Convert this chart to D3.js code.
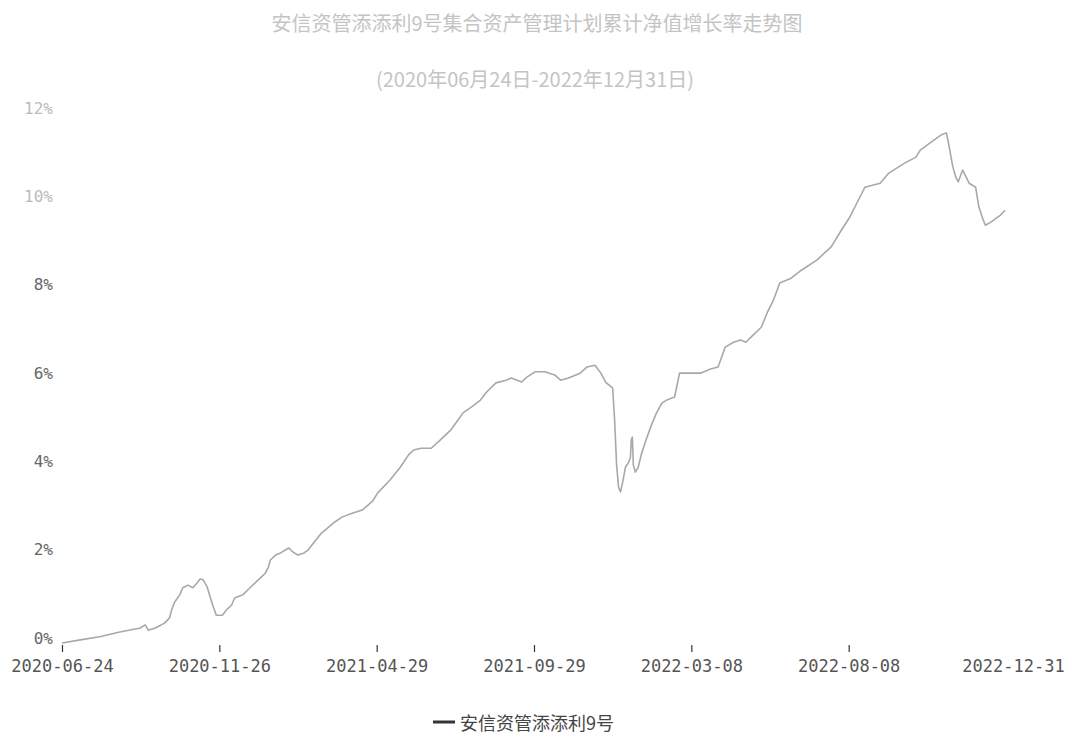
<!DOCTYPE html>
<html>
<head>
<meta charset="utf-8">
<script src="https://cdn.jsdelivr.net/npm/d3@7/dist/d3.min.js"></script>
<style>
  html, body { margin: 0; padding: 0; background: #fff; }
  svg { display: block; }
</style>
</head>
<body>
<div id="chart"></div>
<script>
// ---- data ----
const titleText = "安信资管添添利9号集合资产管理计划累计净值增长率走势图";
const subtitleText = "(2020年06月24日-2022年12月31日)";
const seriesName = "安信资管添添利9号";

const tickDates = ["2020-06-24","2020-11-26","2021-04-29","2021-09-29","2022-03-08","2022-08-08","2022-12-31"];
const yTicks = [0, 2, 4, 6, 8, 10, 12];

const dates = [
 "2020-06-24","2020-07-12","2020-07-31","2020-08-20","2020-09-09","2020-09-14","2020-09-17","2020-09-24",
 "2020-10-03","2020-10-08","2020-10-10","2020-10-13","2020-10-18","2020-10-21","2020-10-26","2020-10-31",
 "2020-11-04","2020-11-07","2020-11-10","2020-11-14","2020-11-17","2020-11-20","2020-11-23","2020-11-29",
 "2020-12-03","2020-12-08","2020-12-11","2020-12-19","2020-12-26","2020-12-31","2021-01-05","2021-01-10",
 "2021-01-13","2021-01-15","2021-01-20","2021-01-25","2021-01-30","2021-02-02","2021-02-06","2021-02-11",
 "2021-02-17","2021-02-21","2021-02-26","2021-03-06","2021-03-19","2021-03-26","2021-04-05","2021-04-15",
 "2021-04-25","2021-04-30","2021-05-12","2021-05-22","2021-05-30","2021-06-04","2021-06-11","2021-06-21",
 "2021-06-30","2021-07-10","2021-07-15","2021-07-22","2021-07-30","2021-08-08","2021-08-13","2021-08-23",
 "2021-09-02","2021-09-07","2021-09-17","2021-09-22","2021-09-30","2021-10-10","2021-10-20","2021-10-26",
 "2021-11-03","2021-11-15","2021-11-22","2021-11-30","2021-12-06","2021-12-11","2021-12-18","2021-12-20",
 "2021-12-22","2021-12-24","2021-12-26","2021-12-28","2021-12-31","2022-01-03","2022-01-05","2022-01-06",
 "2022-01-07","2022-01-08","2022-01-10","2022-01-13","2022-01-16","2022-01-21","2022-01-26","2022-01-31",
 "2022-02-06","2022-02-11","2022-02-19","2022-02-24","2022-03-03","2022-03-17","2022-03-26","2022-04-03",
 "2022-04-10","2022-04-18","2022-04-25","2022-04-30","2022-05-07","2022-05-15","2022-05-21","2022-05-27",
 "2022-06-02","2022-06-13","2022-06-23","2022-07-08","2022-07-22","2022-08-01","2022-08-09","2022-08-17",
 "2022-08-23","2022-09-06","2022-09-14","2022-09-29","2022-10-09","2022-10-13","2022-10-23","2022-11-01",
 "2022-11-06","2022-11-08","2022-11-12","2022-11-15","2022-11-17","2022-11-21","2022-11-27","2022-12-03",
 "2022-12-06","2022-12-10","2022-12-12","2022-12-17","2022-12-26","2022-12-30"
];
const values = [
 0.00,0.07,0.14,0.25,0.34,0.41,0.29,0.34,
 0.45,0.57,0.75,0.93,1.09,1.25,1.31,1.25,
 1.36,1.45,1.43,1.27,1.04,0.82,0.63,0.63,
 0.75,0.86,1.02,1.09,1.25,1.36,1.47,1.58,
 1.72,1.88,1.99,2.04,2.11,2.15,2.06,1.99,
 2.04,2.11,2.26,2.49,2.74,2.85,2.94,3.01,
 3.21,3.40,3.69,3.98,4.26,4.37,4.41,4.41,
 4.60,4.82,4.98,5.21,5.34,5.50,5.66,5.89,
 5.95,6.00,5.91,6.02,6.14,6.14,6.07,5.95,
 6.00,6.11,6.25,6.29,6.11,5.90,5.77,5.05,
 4.03,3.53,3.42,3.62,3.98,4.08,4.19,4.60,
 4.66,4.03,3.87,3.98,4.26,4.60,4.91,5.18,
 5.43,5.50,5.57,6.11,6.11,6.11,6.20,6.25,
 6.70,6.81,6.86,6.81,6.97,7.15,7.49,7.77,
 8.15,8.26,8.44,8.67,8.97,9.35,9.64,10.03,
 10.32,10.41,10.64,10.87,11.00,11.16,11.34,11.50,
 11.55,11.32,10.78,10.53,10.44,10.71,10.41,10.32,
 9.87,9.58,9.46,9.53,9.69,9.80
];

// ---- chart ----
const W = 1075, H = 740;
const parse = d3.timeParse("%Y-%m-%d");
const data = dates.map((d, i) => ({ date: parse(d), value: values[i] }));
const tickD = tickDates.map(parse);

const svg = d3.select("#chart").append("svg")
  .attr("width", W).attr("height", H)
  .style("font-family", "'Noto Sans CJK SC', 'DejaVu Sans', sans-serif");

const xLeft = 62, xRight = 1006;
const x = d3.scaleTime()
  .domain(tickD)
  .range(tickD.map((d, i) => xLeft + i * (xRight - xLeft) / (tickD.length - 1)));
const y = d3.scaleLinear().domain([0, 12]).range([643, 113]);

// title
svg.append("text")
  .attr("x", 537).attr("y", 22)
  .attr("text-anchor", "middle").attr("dominant-baseline", "central")
  .style("font-size", "20px").style("fill", "#c4c4c4")
  .text(titleText);
svg.append("text")
  .attr("x", 535).attr("y", 78)
  .attr("text-anchor", "middle").attr("dominant-baseline", "central")
  .style("font-size", "20px").style("fill", "#c4c4c4")
  .text(subtitleText);

// y axis labels
const yAxis = d3.axisLeft(y).tickValues(yTicks).tickSize(0).tickPadding(0)
  .tickFormat(d => d + "%");
const gy = svg.append("g").attr("transform", "translate(53,-5)").call(yAxis);
gy.select(".domain").remove();
gy.selectAll("text")
  .style("font-family", "'DejaVu Sans Mono', monospace")
  .style("font-size", "16px")
  .style("fill", d => d >= 10 ? "#bbb" : "#666");

// x axis
const xAxis = d3.axisBottom(x).tickValues(tickD).tickSize(7).tickPadding(8)
  .tickFormat(d3.timeFormat("%Y-%m-%d"));
const gx = svg.append("g").attr("transform", "translate(0,645)").call(xAxis);
gx.select(".domain").remove();
gx.selectAll(".tick line").attr("stroke", "#333").attr("stroke-width", 1.2);
gx.selectAll(".tick").filter((d, i) => i === tickD.length - 1).select("line").remove();
gx.selectAll("text")
  .style("font-family", "'DejaVu Sans Mono', monospace")
  .style("font-size", "17px")
  .style("fill", "#555");
gx.selectAll(".tick").filter((d, i) => i === tickD.length - 1).select("text").attr("dx", 7);

// line
const line = d3.line().x(d => x(d.date)).y(d => y(d.value)).curve(d3.curveLinear);
svg.append("path")
  .datum(data)
  .attr("fill", "none")
  .attr("stroke", "#a8a8a8")
  .attr("stroke-width", 1.6)
  .attr("stroke-linejoin", "round")
  .attr("d", line);

// legend
const lg = svg.append("g").attr("transform", "translate(433,722)");
lg.append("line").attr("x1", 0).attr("x2", 22).attr("y1", 0).attr("y2", 0)
  .attr("stroke", "#333").attr("stroke-width", 3);
lg.append("text").attr("x", 27).attr("y", 0).attr("dominant-baseline", "central")
  .style("font-size", "18px").style("fill", "#444")
  .text(seriesName);
</script>
</body>
</html>
